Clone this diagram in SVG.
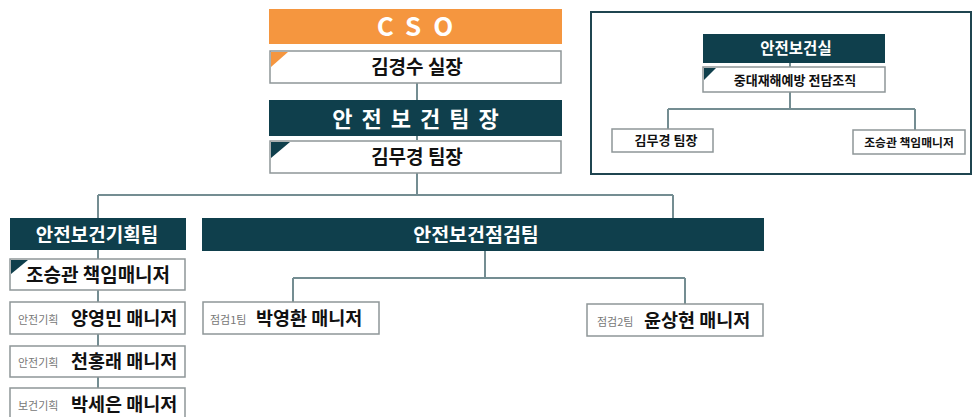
<svg xmlns="http://www.w3.org/2000/svg" width="975" height="417" viewBox="0 0 975 417">
  <style>
    text { font-family: "Noto Sans CJK KR", "Noto Sans", sans-serif; font-weight: 700; }
    .head { fill: #0f3f4c; }
    .box { fill: #ffffff; stroke: #8e9698; stroke-width: 1.5; }
    .wt { fill: #ffffff; text-anchor: middle; }
    .bk { fill: #111111; text-anchor: middle; }
    .nm { fill: #111111; font-size: 18.5px; }
    .lb { fill: #777777; font-size: 11px; font-weight: 400; }
    .wire { fill: none; stroke: #748d92; stroke-width: 2; }
    .tri-d { fill: #0f3f4c; }
  </style>

  <!-- framed panel behind the office chart -->
  <g id="office-panel">
    <rect x="591" y="12" width="380" height="162" fill="#ffffff" stroke="#1f4550" stroke-width="2"/>
  </g>

  <!-- connectors -->
  <g id="connectors">
    <path class="wire" d="M417 83 V100 M417 136 V140 M417 173 V195 M98 195 H673 M98 195 V218 M673 195 V218"/>
    <path class="wire" d="M98 250 V259 M98 290 V302 M98 334 V346 M98 377 V388"/>
    <path class="wire" d="M485 251 V278 M293 278 H685 M293 278 V302 M685 278 V304"/>
    <path class="wire" d="M790 63 V67 M790 92 V109 M668 109 H915 M668 109 V129 M915 109 V130"/>
  </g>

  <!-- top chain -->
  <g id="cso">
    <rect x="269" y="9" width="293" height="35" fill="#f5963f"/>
    <text class="wt" x="421" y="36" font-size="26" letter-spacing="12">CSO</text>
  </g>
  <g id="kim-gyeongsu">
    <rect class="box" x="270" y="51" width="291" height="32"/>
    <polygon points="271,52 288,52 271,67" fill="#f5963f"/>
    <text class="bk" x="417" y="74" font-size="19">김경수 실장</text>
  </g>
  <g id="safety-head">
    <rect class="head" x="269" y="100" width="293" height="36"/>
    <text class="wt" x="420" y="127" font-size="22" letter-spacing="9">안전보건팀장</text>
  </g>
  <g id="kim-mugyeong">
    <rect class="box" x="270" y="141" width="291" height="32"/>
    <polygon class="tri-d" points="271,142 290,142 271,158"/>
    <text class="bk" x="417" y="164" font-size="19">김무경 팀장</text>
  </g>

  <!-- planning team -->
  <g id="planning-team">
    <rect class="head" x="10" y="218" width="176" height="32"/>
    <text class="wt" x="97" y="242" font-size="19">안전보건기획팀</text>
  </g>
  <g id="cho-seunggwan">
    <rect class="box" x="10" y="259" width="175" height="31"/>
    <polygon class="tri-d" points="11,260 28,260 11,274"/>
    <text class="bk" x="98" y="282" font-size="19">조승관 책임매니저</text>
  </g>
  <g id="yang-yeongmin">
    <rect class="box" x="10" y="302" width="175" height="32"/>
    <text class="lb" x="18" y="324">안전기획</text>
    <text class="nm" x="71" y="325">양영민 매니저</text>
  </g>
  <g id="cheon-hongrae">
    <rect class="box" x="10" y="346" width="175" height="31"/>
    <text class="lb" x="18" y="367">안전기획</text>
    <text class="nm" x="71" y="368">천홍래 매니저</text>
  </g>
  <g id="park-seeun">
    <rect class="box" x="10" y="388" width="175" height="32"/>
    <text class="lb" x="18" y="410">보건기획</text>
    <text class="nm" x="71" y="411">박세은 매니저</text>
  </g>

  <!-- inspection team -->
  <g id="inspection-team">
    <rect class="head" x="202" y="218" width="562" height="33"/>
    <text class="wt" x="476" y="242" font-size="19.5">안전보건점검팀</text>
  </g>
  <g id="park-yeonghwan">
    <rect class="box" x="203" y="302" width="176" height="32"/>
    <text class="lb" x="210" y="324">점검1팀</text>
    <text class="nm" x="256" y="325">박영환 매니저</text>
  </g>
  <g id="yun-sanghyeon">
    <rect class="box" x="587" y="304" width="176" height="32"/>
    <text class="lb" x="597" y="326">점검2팀</text>
    <text class="nm" x="644" y="327">윤상현 매니저</text>
  </g>

  <!-- safety & health office chart -->
  <g id="office">
    <rect class="head" x="703" y="34" width="182" height="29"/>
    <text class="wt" x="796" y="54" font-size="15.5">안전보건실</text>
  </g>
  <g id="dedicated-org">
    <rect class="box" x="703" y="67" width="182" height="25"/>
    <polygon class="tri-d" points="704,68 716,68 704,80"/>
    <text class="bk" x="795" y="85" font-size="13">중대재해예방 전담조직</text>
  </g>
  <g id="office-kim">
    <rect class="box" x="612" y="129" width="101" height="23"/>
    <text class="bk" x="666" y="145" font-size="13">김무경 팀장</text>
  </g>
  <g id="office-cho">
    <rect class="box" x="853" y="130" width="112" height="24"/>
    <text class="bk" x="909" y="147" font-size="11.8">조승관 책임매니저</text>
  </g>
</svg>
